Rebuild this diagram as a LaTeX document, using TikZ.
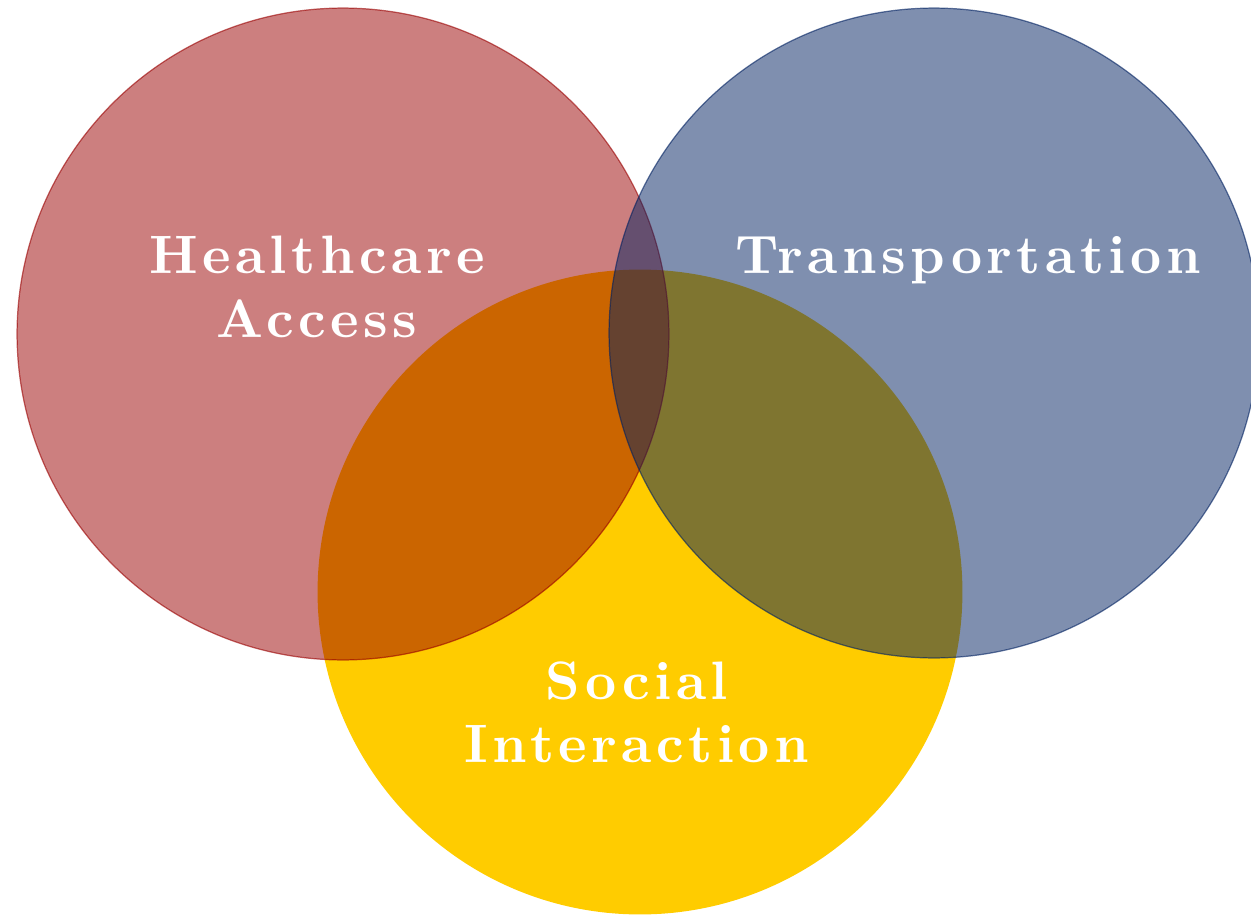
\documentclass[tikz,border=0pt]{standalone}
\usepackage{fontspec}
\usepackage{xcolor}
\usetikzlibrary{positioning}

\definecolor{hcred}{RGB}{153,0,0}
\definecolor{trblue}{RGB}{0,32,96}
\definecolor{sigold}{RGB}{255,204,0}
\newfontfamily\tagfont{lmroman10-bold.otf}[LetterSpace=8.2]

\begin{document}
\begin{tikzpicture}[
    x=0.02cm, y=-0.02cm,
    venn/.style={circle, inner sep=0pt, outer sep=0pt, line width=0.7pt, draw opacity=0.6},
    tag/.style={text=white, align=center,
                font=\tagfont\fontsize{30.8}{36}\selectfont},
]
\useasboundingbox (0,0) rectangle (1251,916);
% the three sets, gold at the back
\node[venn, minimum size=12.9cm, fill=sigold] (soc) at (640,592) {};
\node[venn, minimum size=13.04cm, fill=hcred, fill opacity=0.5, draw=hcred] (hc) at (343,334) {};
\node[venn, minimum size=13.0cm, fill=trblue, fill opacity=0.5, draw=trblue] (tr) at (934,333) {};
% labels
\node[tag] (hclab)  at (317,287) {Healthcare\\Access};
\node[tag] (trlab)  at (968,260) {Transportation};
\node[tag] (soclab) at (637,712) {Social\\Interaction};
\end{tikzpicture}
\end{document}
